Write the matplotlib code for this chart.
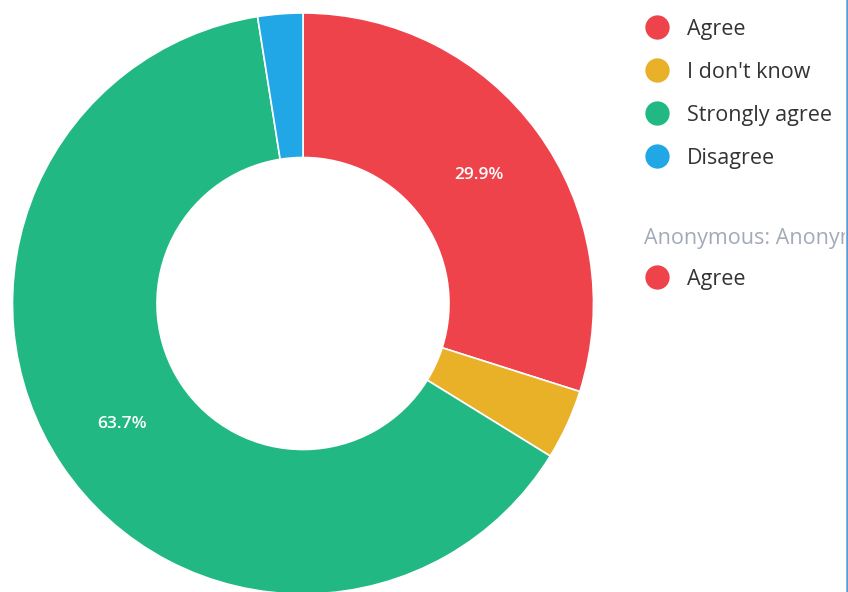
import matplotlib.pyplot as plt
from matplotlib.lines import Line2D

labels = ['Agree', "I don't know", 'Strongly agree', 'Disagree']
shares = [29.9, 3.9, 63.7, 2.5]
colors = ['#EF434B', '#E8B128', '#22B884', '#22A7E6']

group_title = 'Anonymous: Anonymous'
group_labels = ['Agree']
group_colors = ['#EF434B']

plt.rcParams['font.family'] = ['Open Sans', 'DejaVu Sans']

W, H = 848, 592
fig = plt.figure(figsize=(W / 100, H / 100), dpi=100)
ax = fig.add_axes([0, 0, 845 / W, 1])


def show_pct(p):
    return f'{p:.1f}%' if p > 10 else ''


ax.pie(shares, colors=colors, startangle=90, counterclock=False,
       center=(303, H - 303.5), radius=290.5,
       autopct=show_pct, pctdistance=0.75,
       wedgeprops=dict(width=144.5, edgecolor='white', linewidth=1.2),
       textprops=dict(color='white', fontsize=12.5, fontweight='semibold'))
ax.set_xlim(0, 845)
ax.set_ylim(0, H)
ax.axis('off')

# legend, drawn by hand
leg_y = [27, 70, 113, 156]
for lab, col, py in zip(labels, colors, leg_y):
    ax.plot(657, H - py, 'o', ms=17.5, color=col, mec='none')
    ax.text(687, H - py - 8, lab, va='baseline', fontsize=15.5, color='#333333')

# second group, its title runs past the right border like in the source
ax.text(644, H - 244, group_title, va='baseline', fontsize=15.5,
        color='#A3AAB9', clip_on=True)
for lab, col, py in zip(group_labels, group_colors, [277]):
    ax.plot(657, H - py, 'o', ms=17.5, color=col, mec='none')
    ax.text(687, H - py - 8, lab, va='baseline', fontsize=15.5, color='#333333')

fig.add_artist(Line2D([846.5 / W] * 2, [0, 1], transform=fig.transFigure,
                      color='#5A9BD5', lw=1.8))

fig.savefig('out.png', dpi=100)
